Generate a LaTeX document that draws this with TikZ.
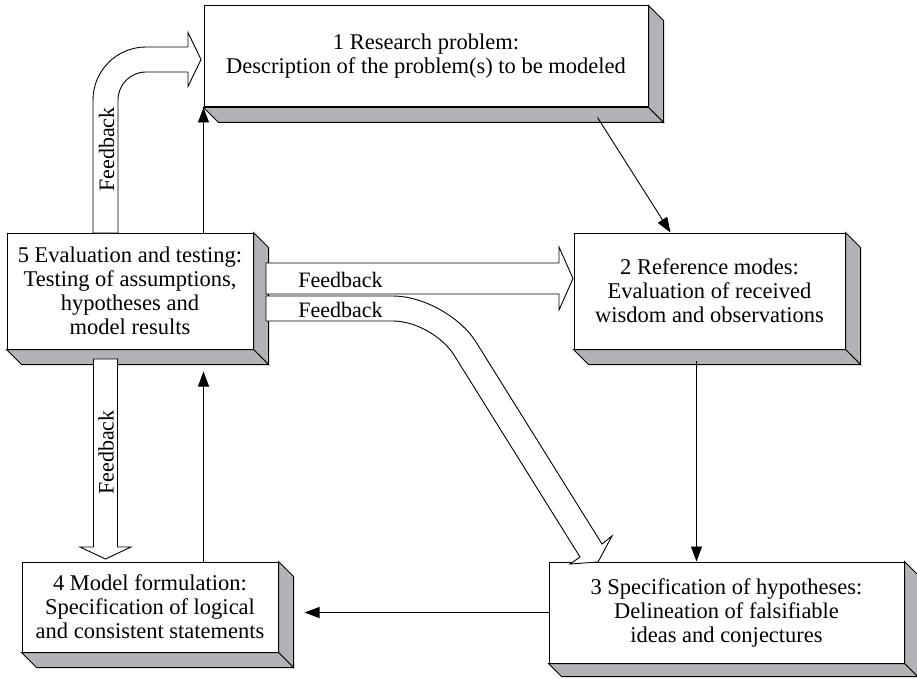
\documentclass[tikz,border=0pt]{standalone}
\usepackage{fontspec}
\setmainfont{Liberation Serif}
\usetikzlibrary{arrows.meta,calc}
\definecolor{shadegray}{RGB}{178,179,183}
\newcommand{\mydepth}[2]{%
  \draw[depthface] (#1.north east) -- ($(#1.north east)+(#2,#2)$) -- ($(#1.south east)+(#2,#2)$) -- (#1.south east) -- cycle;
  \draw[depthface] (#1.south west) -- ($(#1.south west)+(#2,#2)$) -- ($(#1.south east)+(#2,#2)$) -- (#1.south east) -- cycle;}
\begin{document}
\begin{tikzpicture}[x=1pt,y=-1pt,
  box/.style={draw,line width=1pt,fill=white,inner sep=0pt,align=center,
    font=\fontsize{22.5}{24}\selectfont},
  depthface/.style={draw,line width=1pt,fill=shadegray,line join=miter},
  conn/.style={line width=0.9pt,-{Triangle[length=15pt,width=11pt]}},
  hollow/.style={draw,line width=0.9pt,fill=white,line join=miter},
  fb/.style={font=\fontsize{22}{24}\selectfont,inner sep=0pt}]
\useasboundingbox (0,0) rectangle (917,679);

% boxes
\node[box,minimum width=444pt,minimum height=101pt] (b1) at (426,56.5)
  {1 Research problem:\\Description of the problem(s) to be modeled};
\node[box,minimum width=271pt,minimum height=116pt] (b2) at (709.5,291)
  {2 Reference modes:\\Evaluation of received\\wisdom and observations};
\node[box,minimum width=355pt,minimum height=101pt] (b3) at (726.5,612.5)
  {3 Specification of hypotheses:\\Delineation of falsifiable\\ideas and conjectures};
\node[box,minimum width=256pt,minimum height=90pt] (b4) at (150,607)
  {4 Model formulation:\\Specification of logical\\and consistent statements};
\node[box,minimum width=246pt,minimum height=116pt] (b5) at (130,291)
  {5 Evaluation and testing:\\Testing of assumptions,\\hypotheses and\\model results};

\mydepth{b1}{15}
\mydepth{b2}{15}
\mydepth{b3}{13}
\mydepth{b4}{15}
\mydepth{b5}{15}

% plain connectors
\coordinate (s12) at ($(b1.south west)+(394,10)$);
\coordinate (e12) at ($(b2.north west)+(97,0)$);
\coordinate (s23) at ($(b2.south west)+(123,11)$);
\coordinate (t45) at ($(b5.south -| b1.west)+(0,22)$);
\coordinate (t34) at ($(b4.east |- b3.west)+(26,0)$);
\draw[conn] (b5.north -| b1.west) -- (b1.south west);
\draw[conn] (s12) -- (e12);
\draw[conn] (s23) -- (s23 |- b3.north);
\draw[conn] (b3.west) -- (t34);
\draw[conn] (b4.north -| b1.west) -- (t45);

% hollow feedback arrows
\path[hollow] (93,233) -- (93,100) .. controls (93,70.7) and (116.7,47) .. (146,47)
  -- (188,47) -- (188,32.5) -- (201,59.5) -- (188,86.5) -- (188,72) -- (146,72)
  .. controls (130.5,72) and (118,84.5) .. (118,100) -- (118,233) -- cycle;
\path[hollow] (266,263) -- (559,263) -- (559,247) -- (573,278.5) -- (559,310)
  -- (559,294) -- (266,294) -- cycle;
\path[hollow] (266,296) -- (393,296) .. controls (423,296) and (460,316.6) .. (476,342)
  -- (602,544) -- (612,536) -- (598,562) -- (570,564) -- (580,557) -- (454,355)
  .. controls (442,336) and (415,321) .. (393,321) -- (266,321) -- cycle;
\path[hollow] (93.5,359) -- (93.5,547) -- (80,547) -- (105.5,559) -- (131,547)
  -- (117.5,547) -- (117.5,359) -- cycle;

\node[fb,rotate=90] (fbA) at (106.5,149.5) {Feedback};
\node[fb] (fbB) at (340.5,280) {Feedback};
\node[fb] (fbC) at (340.5,310) {Feedback};
\node[fb,rotate=90] (fbD) at (106,452.5) {Feedback};
\end{tikzpicture}
\end{document}
